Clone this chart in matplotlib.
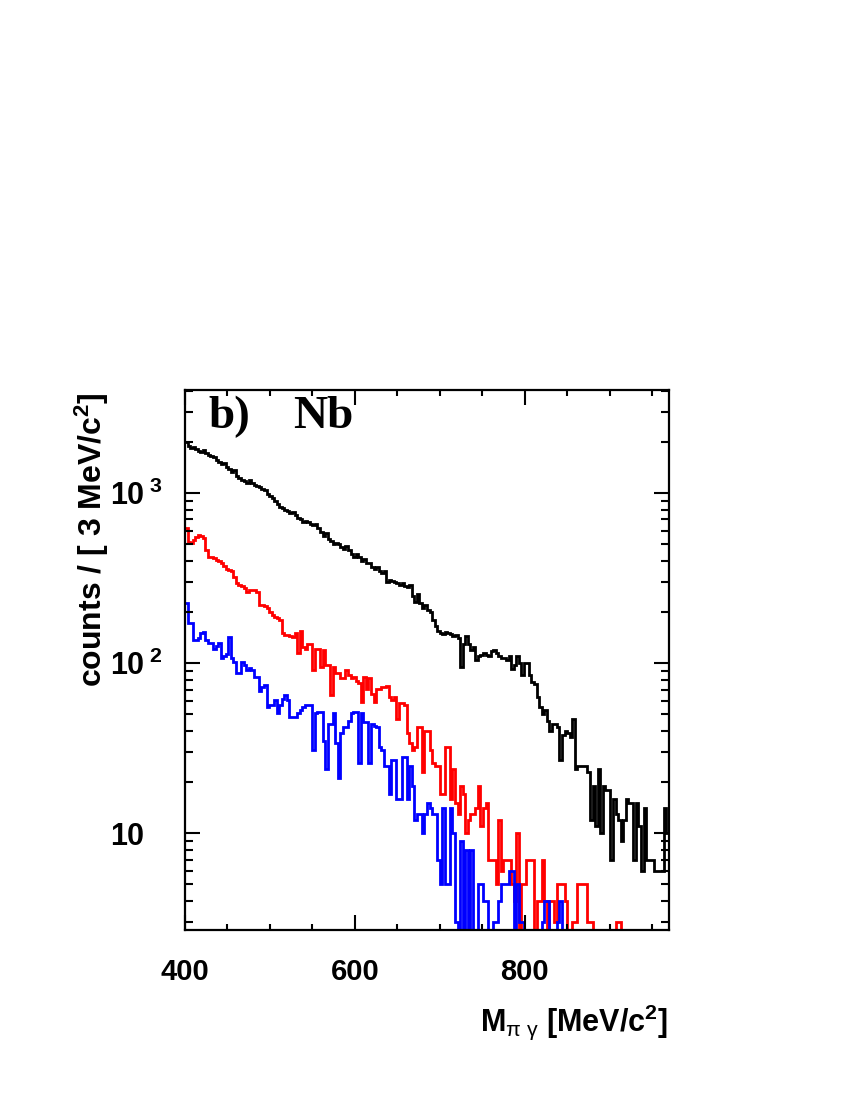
import numpy as np
import matplotlib
matplotlib.use('Agg')
import matplotlib.pyplot as plt
from matplotlib.ticker import FixedLocator, MultipleLocator, LogLocator, NullFormatter, FixedFormatter

plt.rcParams['font.family'] = ['Liberation Sans', 'DejaVu Sans']
plt.rcParams['mathtext.fontset'] = 'custom'
plt.rcParams['mathtext.rm'] = 'Liberation Sans:bold'
plt.rcParams['mathtext.bf'] = 'Liberation Sans:bold'
plt.rcParams['mathtext.it'] = 'Liberation Sans:italic'
plt.rcParams['mathtext.sf'] = 'Liberation Sans'

# ---------------- data (counts per 3 MeV bin, 400 .. 970 MeV) ----------------
bin_lo = 400
bin_hi = 970
bin_w = 3

black_counts = [
    2000, 1900, 1850, 1880, 1820, 1780, 1750, 1800, 1720, 1680,
    1650, 1620, 1560, 1520, 1480, 1500, 1420, 1380, 1340, 1360,
    1260, 1230, 1200, 1180, 1150, 1200, 1140, 1120, 1100, 1080,
    1060, 1040, 990, 960, 930, 900, 860, 830, 820, 800,
    780, 760, 770, 740, 710, 700, 680, 690, 680, 660,
    650, 660, 620, 590, 560, 580, 540, 520, 500, 510,
    500, 480, 470, 490, 460, 440, 420, 440, 420, 400,
    410, 390, 390, 370, 360, 370, 350, 340, 350, 300,
    310, 305, 300, 298, 290, 295, 285, 280, 290, 250,
    230, 255, 225, 210, 220, 205, 200, 180, 165, 155,
    150, 148, 152, 150, 148, 145, 147, 140, 95, 130,
    145, 130, 120, 125, 105, 110, 112, 115, 112, 110,
    118, 120, 115, 110, 108, 108, 105, 110, 92, 98,
    110, 100, 85, 100, 100, 85, 78, 75, 63, 55,
    50, 53, 46, 40, 44, 44, 42, 27, 38, 40,
    39, 37, 47, 24, 25, 25, 25, 25, 23, 12,
    19, 11, 24, 10, 19, 18, 18, 7, 16, 13,
    12, 9, 12, 16, 15, 15, 7, 15, 11, 6,
    14, 7, 7, 7, 6, 6, 6, 6, 14, 10,
]

red_counts = [
    620, 515, 510, 530, 550, 566, 560, 545, 465, 420,
    420, 415, 403, 400, 390, 375, 360, 352, 350, 320,
    295, 288, 285, 275, 263, 269, 270, 268, 262, 220,
    220, 217, 210, 200, 191, 188, 185, 180, 150, 146,
    146, 144, 142, 150, 115, 155, 124, 122, 130, 130,
    91, 122, 122, 95, 119, 97, 97, 65, 95, 88,
    88, 82, 82, 91, 85, 82, 83, 79, 77, 59,
    83, 71, 82, 66, 59, 71, 71, 72, 72, 73,
    63, 61, 63, 47, 58, 58, 57, 39, 34, 31,
    32, 42, 42, 23, 40, 40, 31, 26, 25, 25,
    17, 17, 32, 32, 16, 24, 15, 13, 19, 17,
    10, 12, 13, 13, 14, 19, 11, 14, 15, 7,
    7, 7, 5, 12, 6, 7, 7, 7, 5, 4,
    10, 1, 5, 5, 7, 7, 7, 1, 4, 4,
    7, 4, 1, 4, 4, 3, 5, 5, 5, 4,
    1, 1, 3, 3, 5, 5, 5, 5, 3, 3,
    1, 1, 1, 1, 1, 1, 1, 1, 1, 3,
    3, 1, 1, 1, 1, 1, 1, 1, 1, 1,
    1, 1, 1, 1, 1, 1, 1, 1, 1, 1,
]

blue_counts = [
    225, 172, 172, 137, 137, 140, 150, 152, 137, 131,
    131, 122, 127, 131, 108, 111, 114, 142, 108, 101,
    87, 87, 101, 97, 91, 94, 91, 83, 83, 69,
    72, 74, 55, 57, 57, 61, 51, 57, 62, 65,
    61, 48, 48, 48, 51, 53, 55, 57, 57, 57,
    31, 51, 52, 52, 35, 24, 44, 44, 51, 34,
    21, 39, 42, 42, 46, 51, 52, 52, 26, 51,
    45, 45, 26, 44, 43, 42, 32, 31, 25, 25,
    17, 27, 27, 16, 16, 28, 28, 16, 25, 19,
    12, 13, 13, 10, 13, 15, 14, 13, 13, 7,
    5, 14, 5, 5, 14, 10, 3, 1, 9, 1,
    8, 1, 8, 1, 1, 5, 5, 4, 4, 1,
    1, 3, 3, 4, 5, 5, 5, 6, 6, 1,
    5, 3, 3, 1, 1, 1, 1, 1, 1, 1,
    3, 4, 4, 1, 1, 1, 3, 4, 1, 1,
    1, 1, 1, 1, 1, 1, 1, 1, 1, 1,
    1, 1, 1, 1, 1, 1, 1, 1, 1, 1,
    1, 1, 1, 1, 1, 1, 1, 1, 1, 1,
    1, 1, 1, 1, 1, 1, 1, 1, 1, 1,
]

x_major = [400, 600, 800]
x_major_labels = ['400', '600', '800']
y_major = [10, 100, 1000]
y_major_labels = ['10', '10$^{\\;2}$', '10$^{\\;3}$']

# ---------------- figure ----------------
fig = plt.figure(figsize=(8.5, 11), dpi=100)
ax = fig.add_axes([185 / 850, 170 / 1100, 484 / 850, 540 / 1100])

edges = np.arange(bin_lo, bin_hi + bin_w / 2, bin_w)
ax.stairs(black_counts, edges, baseline=None, color='black', lw=2.0)
ax.stairs(red_counts, edges, baseline=None, color='#ff0000', lw=2.0)
ax.stairs(blue_counts, edges, baseline=None, color='#0000ff', lw=2.0)

ax.set_yscale('log')
ax.set_xlim(bin_lo, bin_hi)
ax.set_ylim(2.7, 4040)

for s in ax.spines.values():
    s.set_linewidth(1.6)

ax.xaxis.set_major_locator(FixedLocator(x_major))
ax.xaxis.set_major_formatter(FixedFormatter(x_major_labels))
ax.xaxis.set_minor_locator(MultipleLocator(50))
ax.yaxis.set_major_locator(FixedLocator(y_major))
ax.yaxis.set_major_formatter(FixedFormatter(y_major_labels))
ax.yaxis.set_minor_locator(LogLocator(base=10, subs=range(2, 10)))
ax.yaxis.set_minor_formatter(NullFormatter())

ax.tick_params(which='both', direction='in', top=True, right=True, width=1.5)
ax.tick_params(which='major', length=11)
ax.tick_params(which='minor', length=6)
ax.tick_params(axis='x', which='minor', length=4)
ax.tick_params(axis='x', labelsize=21, pad=20)
ax.tick_params(axis='y', labelsize=22, pad=54)
for lab in ax.get_xticklabels():
    lab.set_fontweight('bold')
for lab in ax.get_yticklabels():
    lab.set_fontweight('bold')
    lab.set_horizontalalignment('left')

ax.set_ylabel('counts / [ 3 MeV/c$^{2}$]', fontsize=23, fontweight='bold', ha='right')
ax.yaxis.set_label_coords(-0.152, 0.995)
ax.set_xlabel('M$_{\\mathsf{\\pi\\ \\gamma}}$ [MeV/c$^{2}$]', fontsize=22, fontweight='bold', ha='right', va='top')
ax.xaxis.set_label_coords(0.998, -0.135)

ax.text((208 - 185) / 484, (930 - 428) / 540, 'b)', transform=ax.transAxes,
        fontsize=34, fontweight='bold', family='Liberation Serif', va='baseline', ha='left')
ax.text((293 - 185) / 484, (930 - 428) / 540, 'Nb', transform=ax.transAxes,
        fontsize=34, fontweight='bold', family='Liberation Serif', va='baseline', ha='left')

fig.savefig('out.png', dpi=100)
